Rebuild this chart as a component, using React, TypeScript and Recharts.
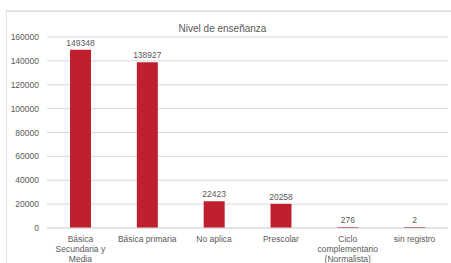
import { BarChart, Bar, XAxis, YAxis, CartesianGrid, LabelList } from 'recharts';

const categories = [
  'Básica\nSecundaria y\nMedia',
  'Básica primaria',
  'No aplica',
  'Prescolar',
  'Ciclo\ncomplementario\n(Normalista)',
  'sin registro',
];
const values = [149348, 138927, 22423, 20258, 276, 2];
const yTicks = [0, 20000, 40000, 60000, 80000, 100000, 120000, 140000, 160000];
const title = 'Nivel de enseñanza';

const data = categories.map((name, i) => ({ name, value: values[i] }));

const font = '"Liberation Sans", Arial, sans-serif';
const textColor = '#595959';

const WrappedTick = (props: any) => {
  const { x, y, payload } = props;
  const lines = String(payload.value).split('\n');
  return (
    <text x={x} y={y} textAnchor="middle" fill={textColor} fontSize={8.5} fontFamily={font}>
      {lines.map((line, i) => (
        <tspan key={i} x={x} dy={i === 0 ? '0.71em' : 10}>
          {line}
        </tspan>
      ))}
    </text>
  );
};

export default function App() {
  return (
    <div
      style={{
        position: 'absolute',
        left: 6,
        top: 10,
        width: 444,
        height: 251,
        borderTop: '2px solid #e3e3e3',
        borderLeft: '1px solid #e3e3e3',
        background: '#fff',
      }}
    >
      <div
        style={{
          position: 'absolute',
          left: 0,
          top: 11,
          width: 431,
          textAlign: 'center',
          fontFamily: font,
          fontSize: 10,
          lineHeight: '12px',
          color: textColor,
        }}
      >
        {title}
      </div>
      <BarChart
        width={444}
        height={251}
        data={data}
        margin={{ top: 25, right: 3, left: 0, bottom: 0 }}
      >
        <CartesianGrid vertical={false} stroke="#d9d9d9" strokeWidth={1} />
        <XAxis
          dataKey="name"
          height={35}
          interval={0}
          tickLine={false}
          axisLine={{ stroke: '#d9d9d9' }}
          tick={<WrappedTick />}
        />
        <YAxis
          width={40}
          domain={[0, 160000]}
          ticks={yTicks}
          interval={0}
          tickLine={false}
          axisLine={false}
          tick={{ fill: textColor, fontSize: 8.5, fontFamily: font }}
        />
        <Bar
          dataKey="value"
          fill="#c0202e"
          barSize={21}
          minPointSize={1}
          isAnimationActive={false}
        >
          <LabelList
            dataKey="value"
            position="top"
            offset={4}
            fill={textColor}
            fontSize={8.5}
            fontFamily={font}
          />
        </Bar>
      </BarChart>
    </div>
  );
}
